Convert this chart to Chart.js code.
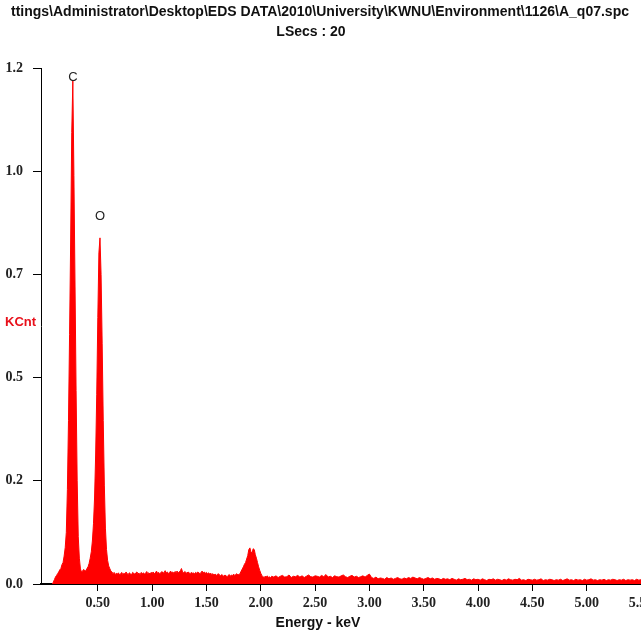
<!DOCTYPE html>
<html>
<head>
<meta charset="utf-8">
<title>EDS spectrum A_q07</title>
<script src="https://cdn.jsdelivr.net/npm/chart.js@4.4.1/dist/chart.umd.min.js"></script>
<style>
  html, body { margin: 0; padding: 0; background: #fff; overflow: hidden; }
  #wrap { width: 641px; height: 636px; }
</style>
</head>
<body>
<div id="wrap"><canvas id="spectrum" width="641" height="636"></canvas></div>
<script>
// Spectrum header text
const titleLines = [
  'ttings\\Administrator\\Desktop\\EDS DATA\\2010\\University\\KWNU\\Environment\\1126\\A_q07.spc',
  'LSecs : 20'
];
const yAxisLabel = 'KCnt';
const xAxisLabel = 'Energy - keV';

// Axis ticks (y labels are rounded by the instrument software)
const yTickValues = [0, 0.24, 0.48, 0.72, 0.96, 1.2];
const yTickLabels = ['0.0', '0.2', '0.5', '0.7', '1.0', '1.2'];
const xTickValues = [0.5, 1.0, 1.5, 2.0, 2.5, 3.0, 3.5, 4.0, 4.5, 5.0, 5.5];
const xTickLabels = ['0.50', '1.00', '1.50', '2.00', '2.50', '3.00', '3.50', '4.00', '4.50', '5.00', '5.50'];

// Peak identifications
const peakNames = ['C', 'O'];
const peakEnergies = [0.27, 0.52];
const peakLabelLevels = [1.177, 0.855];

// Counts (KCnt), 0.01 keV channels from 0.08 keV
const fineStart = 0.08;
const fineStep = 0.01;
const fineCounts = [
  0, 0.004, 0.01, 0.016, 0.02, 0.024, 0.028, 0.033, 0.036, 0.045,
  0.05, 0.065, 0.085, 0.12, 0.22, 0.38, 0.58, 0.80, 1.05, 1.17,
  0.95, 0.70, 0.45, 0.24, 0.11, 0.06, 0.035, 0.028, 0.03, 0.034,
  0.03, 0.031, 0.036, 0.04, 0.048, 0.06, 0.075, 0.10, 0.14, 0.20,
  0.30, 0.44, 0.62, 0.77, 0.805, 0.72, 0.56, 0.38, 0.23, 0.13,
  0.08, 0.055, 0.042, 0.036, 0.03, 0.028, 0.024, 0.027, 0.022, 0.025,
  0.023, 0.026, 0.021, 0.024, 0.027, 0.022, 0.025, 0.023, 0.028, 0.024,
  0.022, 0.026, 0.024, 0.021, 0.027, 0.025, 0.023, 0.026, 0.028, 0.024,
  0.025, 0.022, 0.027, 0.024, 0.026, 0.023, 0.025, 0.029, 0.024, 0.026,
  0.023, 0.027, 0.025, 0.028, 0.024, 0.026, 0.03, 0.025, 0.027, 0.024,
  0.026, 0.029, 0.025, 0.027, 0.031, 0.026, 0.028, 0.024, 0.027, 0.03,
  0.026, 0.028, 0.025, 0.029, 0.027, 0.03, 0.026, 0.028, 0.031, 0.036,
  0.028, 0.026, 0.029, 0.027, 0.025, 0.028, 0.026, 0.024, 0.027, 0.025,
  0.026, 0.023, 0.027, 0.025, 0.028, 0.026, 0.024, 0.027, 0.03, 0.026,
  0.028, 0.025, 0.027, 0.024, 0.026, 0.023, 0.025, 0.022, 0.024, 0.021,
  0.023, 0.02, 0.022, 0.024, 0.021, 0.019, 0.022, 0.02, 0.018, 0.021,
  0.019, 0.017, 0.02, 0.022, 0.018, 0.021, 0.019, 0.023, 0.02, 0.022,
  0.024, 0.021, 0.022, 0.025, 0.03, 0.035, 0.04, 0.046, 0.05, 0.058,
  0.066, 0.08, 0.084, 0.074, 0.072, 0.082, 0.08, 0.068, 0.06, 0.05,
  0.04, 0.032, 0.025, 0.02, 0.017, 0.015, 0.018, 0.016, 0.019, 0.015,
  0.017, 0.014, 0.018
];

// Counts (KCnt), 0.02 keV bins from 2.12 keV
const tailStart = 2.12;
const tailStep = 0.02;
const tailCounts = [
  0.016, 0.019, 0.015, 0.018, 0.02, 0.016, 0.017, 0.021, 0.015, 0.018,
  0.017, 0.02, 0.016, 0.019, 0.015, 0.018, 0.021, 0.017, 0.016, 0.019,
  0.018, 0.016, 0.02, 0.017, 0.022, 0.016, 0.018, 0.015, 0.019, 0.017,
  0.016, 0.019, 0.021, 0.017, 0.015, 0.018, 0.02, 0.016, 0.018, 0.015,
  0.017, 0.019, 0.016, 0.02, 0.023, 0.015, 0.013, 0.016, 0.012, 0.014,
  0.013, 0.011, 0.015, 0.012, 0.014, 0.011, 0.013, 0.015, 0.012, 0.011,
  0.014, 0.012, 0.015, 0.013, 0.016, 0.014, 0.012, 0.015, 0.013, 0.011,
  0.013, 0.015, 0.012, 0.014, 0.011, 0.013, 0.012, 0.01, 0.013, 0.011,
  0.012, 0.01, 0.013, 0.011, 0.009, 0.012, 0.01, 0.011, 0.013, 0.01,
  0.011, 0.009, 0.012, 0.01, 0.011, 0.009, 0.012, 0.01, 0.008, 0.011,
  0.01, 0.012, 0.009, 0.011, 0.01, 0.008, 0.011, 0.009, 0.012, 0.01,
  0.009, 0.011, 0.01, 0.013, 0.009, 0.01, 0.008, 0.011, 0.01, 0.009,
  0.011, 0.009, 0.01, 0.012, 0.008, 0.01, 0.009, 0.011, 0.01, 0.008,
  0.01, 0.009, 0.011, 0.008, 0.01, 0.012, 0.009, 0.01, 0.008, 0.011,
  0.009, 0.01, 0.008, 0.011, 0.009, 0.01, 0.012, 0.009, 0.01, 0.008,
  0.01, 0.009, 0.011, 0.008, 0.01, 0.009, 0.011, 0.01, 0.008, 0.01,
  0.009, 0.011, 0.008, 0.01, 0.009, 0.01, 0.008, 0.011, 0.009, 0.01,
  0.008, 0.01, 0.009, 0.011, 0.008
];

const xMin = -0.023;
const xMax = 5.5;

// channel -> energy
const points = [];
fineCounts.forEach((v, i) => points.push({ x: +(fineStart + i * fineStep).toFixed(2), y: v }));
tailCounts.forEach((v, i) => points.push({ x: +(tailStart + i * tailStep).toFixed(2), y: v }));

const serifBold = { family: "'Liberation Serif', 'Times New Roman', serif", size: 14, weight: 'bold' };

// header, axis captions and peak markers
const labelsPlugin = {
  id: 'edsLabels',
  afterDraw(chart) {
    const ctx = chart.ctx;
    const xs = chart.scales.x;
    const ys = chart.scales.y;
    ctx.save();
    ctx.fillStyle = '#111';
    ctx.textAlign = 'center';
    ctx.textBaseline = 'middle';
    ctx.font = "bold 14px 'Liberation Sans Narrow', 'Liberation Sans', Arial, sans-serif";
    ctx.fillText(titleLines[0], 320, 12);
    ctx.fillText(titleLines[1], 311, 32);

    ctx.font = "bold 14px 'Liberation Sans', Arial, sans-serif";
    ctx.fillText(xAxisLabel, 318, 623);

    ctx.fillStyle = '#e8101a';
    ctx.font = "bold 13px 'Liberation Sans Narrow', 'Liberation Sans', Arial, sans-serif";
    ctx.textAlign = 'left';
    ctx.fillText(yAxisLabel, 5, 322);

    ctx.fillStyle = '#222';
    ctx.textAlign = 'center';
    ctx.font = "13px 'Liberation Sans', Arial, sans-serif";
    peakNames.forEach((name, i) => {
      ctx.fillText(name, xs.getPixelForValue(peakEnergies[i]), ys.getPixelForValue(peakLabelLevels[i]));
    });
    ctx.restore();
  }
};

new Chart(document.getElementById('spectrum'), {
  type: 'line',
  data: {
    datasets: [{
      data: points,
      borderColor: '#ff0000',
      backgroundColor: '#ff0000',
      borderWidth: 1,
      pointRadius: 0,
      tension: 0,
      fill: 'origin'
    }]
  },
  options: {
    responsive: false,
    animation: false,
    layout: { autoPadding: false, padding: { top: 68, right: 0, bottom: 0, left: 0 } },
    plugins: { legend: { display: false }, tooltip: { enabled: false }, title: { display: false } },
    scales: {
      x: {
        type: 'linear',
        min: xMin,
        max: xMax,
        grid: { drawOnChartArea: false, drawTicks: true, tickLength: 7, color: '#000', lineWidth: 1 },
        border: { color: '#000', width: 2 },
        ticks: {
          font: serifBold,
          color: '#222',
          padding: 4,
          maxRotation: 0,
          autoSkip: false,
          callback: (v, i) => xTickLabels[i]
        },
        afterBuildTicks: s => { s.ticks = xTickValues.map(v => ({ value: v })); },
        afterFit: s => {
          // let the last label run off the window like in the instrument export
          s.height = 52;
          s.paddingLeft = 0;
          s.paddingRight = 0;
        }
      },
      y: {
        min: 0,
        max: 1.2,
        grid: { drawOnChartArea: false, drawTicks: true, tickLength: 8, color: '#000', lineWidth: 1 },
        border: { color: '#000', width: 1 },
        ticks: {
          font: serifBold,
          color: '#222',
          padding: 10,
          callback: (v, i) => yTickLabels[i]
        },
        afterBuildTicks: s => { s.ticks = yTickValues.map(v => ({ value: v })); },
        afterFit: s => {
          s.width = 41;
          s.paddingTop = 0;
          s.paddingBottom = 0;
        }
      }
    }
  },
  plugins: [labelsPlugin]
});
</script>
</body>
</html>
